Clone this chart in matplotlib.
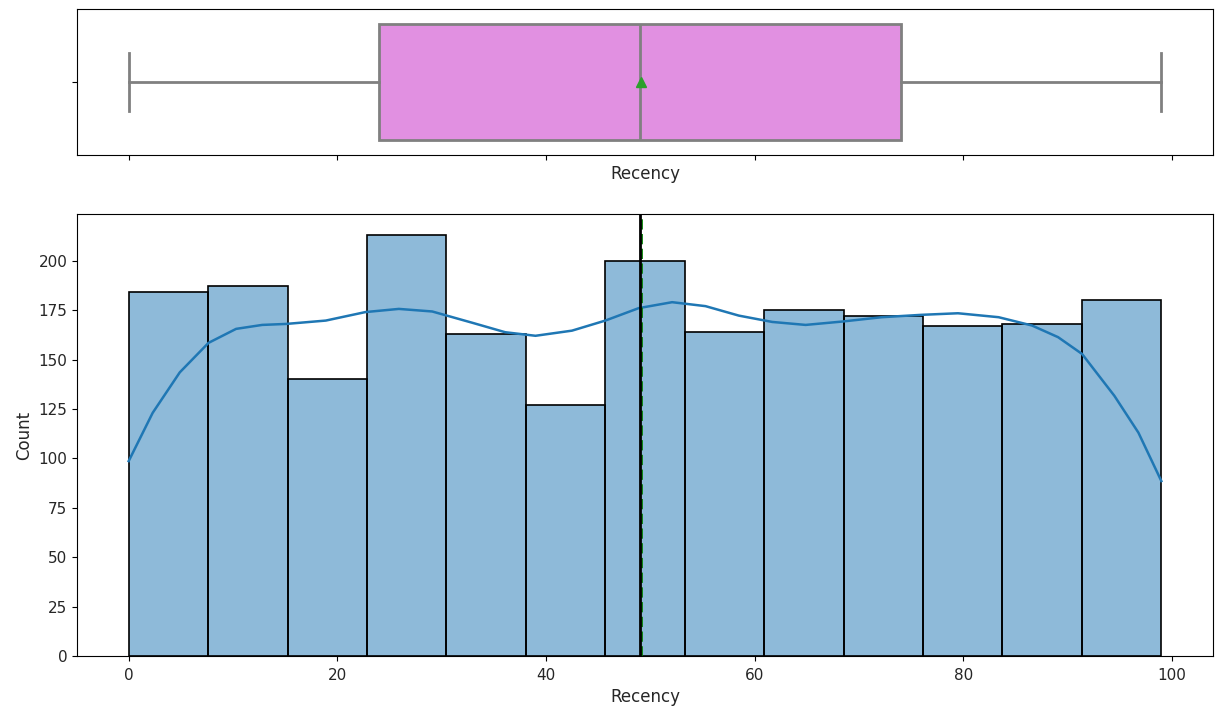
import numpy as np
import matplotlib
matplotlib.use("Agg")
import matplotlib.pyplot as plt
import colorsys

# Recency distribution: five-number summary for the box, counts for the histogram
recency_q1 = 24
recency_median = 49
recency_q3 = 74
recency_min = 0
recency_max = 99
recency_mean = 49.1

hist_counts = [184, 187, 140, 213, 163, 127, 200, 164, 175, 172, 167, 168, 180]

# density curve, already scaled to counts
kde_x = [0, 2.3, 4.9, 7.65, 10.3, 12.8, 15.1, 18.9, 22.7, 25.9, 29.1, 33.0,
         36.1, 39.0, 42.5, 45.7, 48.9, 52.1, 55.3, 58.5, 61.7, 64.9, 68.4,
         72.2, 76.0, 79.5, 83.4, 86.6, 89.1, 91.4, 94.5, 96.8, 99]
kde_y = [98.6, 123, 143.5, 158.4, 165.5, 167.5, 168, 169.7, 174, 175.6, 174.3, 168.5,
         163.8, 162, 164.6, 169.7, 176, 179, 177, 172.2, 169, 167.5, 169.2,
         171.4, 172.6, 173.4, 171.4, 167.2, 161.3, 152.8, 131.6, 113, 88.5]

plt.rcParams["font.family"] = "DejaVu Sans"
plt.rcParams["xtick.labelsize"] = 11
plt.rcParams["ytick.labelsize"] = 11
plt.rcParams["axes.labelsize"] = 12
plt.rcParams["xtick.major.pad"] = 5
plt.rcParams["text.color"] = "#262626"
plt.rcParams["axes.labelcolor"] = "#262626"
plt.rcParams["xtick.labelcolor"] = "#262626"
plt.rcParams["ytick.labelcolor"] = "#262626"

# violet, desaturated the way seaborn does for boxes
h, l, s = colorsys.rgb_to_hls(*matplotlib.colors.to_rgb("violet"))
box_color = colorsys.hls_to_rgb(h, l, s * 0.75)
gray = (0.5, 0.5, 0.5)

fig = plt.figure(figsize=(12.17, 7.11), dpi=100)
ax_box = fig.add_axes([0.0633, 0.782, 0.9334, 0.2053])
ax_hist = fig.add_axes([0.0633, 0.0774, 0.9334, 0.6217], sharex=ax_box)

stats = [{
    "med": recency_median, "q1": recency_q1, "q3": recency_q3,
    "whislo": recency_min, "whishi": recency_max, "mean": recency_mean,
    "fliers": [],
}]
ax_box.bxp(stats, positions=[0], widths=0.8, orientation="horizontal",
           showmeans=True, patch_artist=True,
           boxprops=dict(facecolor=box_color, edgecolor=gray, linewidth=2),
           whiskerprops=dict(color=gray, linewidth=2),
           capprops=dict(color=gray, linewidth=2),
           medianprops=dict(color=gray, linewidth=2),
           meanprops=dict(marker="^", markerfacecolor="#2ca02c",
                          markeredgecolor="#2ca02c", markersize=7))
ax_box.set_ylim(0.5, -0.5)
ax_box.set_yticks([0])
ax_box.set_yticklabels([""])
ax_box.set_xlabel("Recency")
ax_box.tick_params(axis="x", labelbottom=False)

edges = np.linspace(recency_min, recency_max, len(hist_counts) + 1)
ax_hist.bar(edges[:-1], hist_counts, width=np.diff(edges), align="edge",
            color="#1f77b4", alpha=0.5, edgecolor="none")
ax_hist.bar(edges[:-1], hist_counts, width=np.diff(edges), align="edge",
            facecolor="none", edgecolor="black", linewidth=1.2)
ax_hist.plot(kde_x, kde_y, color="#1f77b4", linewidth=1.8)

ax_hist.axvline(recency_mean, color="green", linestyle="--", linewidth=2)
ax_hist.axvline(recency_median, color="black", linestyle="-", linewidth=2)

ax_hist.set_xlim(recency_min - 4.95, recency_max + 4.95)
ax_hist.set_ylim(0, max(hist_counts) * 1.05)
ax_hist.set_xlabel("Recency")
ax_hist.set_ylabel("Count")

fig.savefig("out.png", dpi=100)
